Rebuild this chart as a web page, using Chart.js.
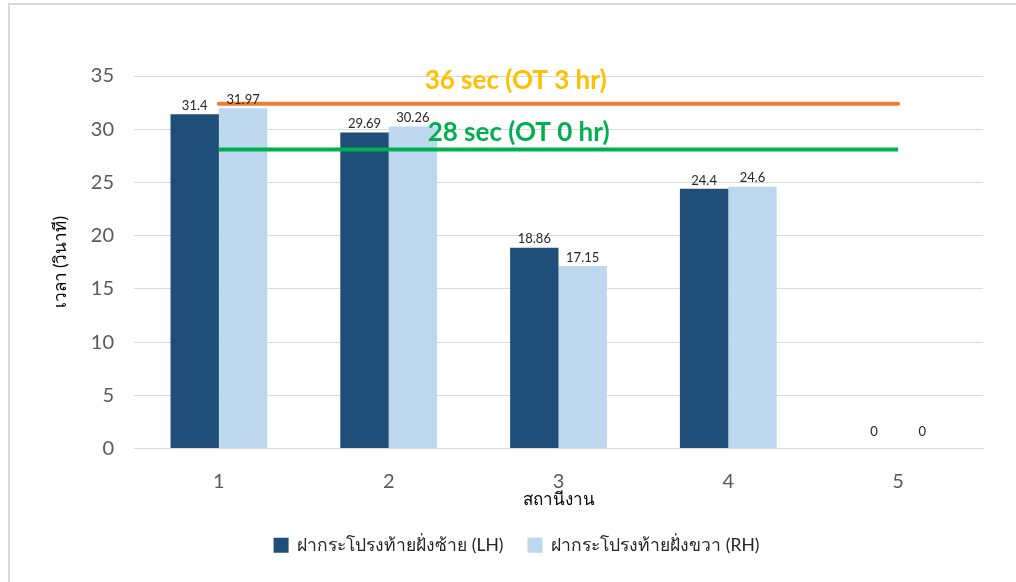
<!DOCTYPE html>
<html>
<head>
<meta charset="utf-8">
<script src="https://cdn.jsdelivr.net/npm/chart.js@4"></script>
<style>
  html, body { margin: 0; padding: 0; background: #fff; overflow: hidden; }
  #wrap { position: absolute; left: 0; top: 0; width: 1016px; height: 582px; }
  #frame { position: absolute; left: 8px; top: 3px; width: 1100px; height: 700px; border: 2px solid #d9d9d9; box-sizing: border-box; }
  canvas { position: absolute; left: 0; top: 0; }
</style>
</head>
<body>
<div id="wrap">
  <div id="frame"></div>
  <canvas id="c" width="1016" height="582"></canvas>
</div>
<script>
const categories = ['1', '2', '3', '4', '5'];
const seriesNames = ['ฝากระโปรงท้ายฝั่งซ้าย (LH)', 'ฝากระโปรงท้ายฝั่งขวา (RH)'];
const lhValues = [31.4, 29.69, 18.86, 24.4, 0];
const rhValues = [31.97, 30.26, 17.15, 24.6, 0];
const otLineLabels = ['36 sec (OT 3 hr)', '28 sec (OT 0 hr)'];
const otLine3hr = [32.4, 32.4, 32.4, 32.4, 32.4];
const otLine0hr = [28.1, 28.1, 28.1, 28.1, 28.1];
const yTicks = [0, 5, 10, 15, 20, 25, 30, 35];
const xTitle = 'สถานีงาน';
const yTitle = 'เวลา (วินาที)';

const FONT = "Lato, 'Open Sans', 'Noto Sans', sans-serif";

const labelPlugin = {
  id: 'labels',
  afterDatasetsDraw(chart) {
    const ctx = chart.ctx;
    ctx.save();
    ctx.font = "13px " + FONT;
    ctx.fillStyle = '#262626';
    ctx.textAlign = 'center';
    ctx.textBaseline = 'bottom';
    [0, 1].forEach(di => {
      const meta = chart.getDatasetMeta(di);
      meta.data.forEach((bar, i) => {
        const v = chart.data.datasets[di].data[i];
        const off = v === 0 ? 10 : 2;
        ctx.fillText(String(v), bar.x, bar.y - off);
      });
    });
    // OT annotation texts
    const ys = chart.scales.y;
    const xs = chart.scales.x;
    const cx = (xs.getPixelForValue(1) + xs.getPixelForValue(2)) / 2 + 42;
    ctx.font = "bold 26px " + FONT;
    ctx.textBaseline = 'middle';
    ctx.fillStyle = '#FFC000';
    ctx.fillText(otLineLabels[0], cx, ys.getPixelForValue(otLine3hr[0]) - 23);
    ctx.fillStyle = '#00B050';
    ctx.fillText(otLineLabels[1], cx + 3, ys.getPixelForValue(otLine0hr[0]) - 17);
    ctx.restore();
  }
};

new Chart(document.getElementById('c'), {
  type: 'bar',
  data: {
    labels: categories,
    datasets: [
      { label: seriesNames[0], data: lhValues, backgroundColor: '#1F4E79', borderColor: '#1F4E79', borderWidth: 0, order: 2 },
      { label: seriesNames[1], data: rhValues, backgroundColor: '#BDD7EE', borderColor: '#BDD7EE', borderWidth: 0, order: 2 },
      { type: 'line', label: otLineLabels[0], data: otLine3hr, borderColor: '#ED7D31', borderWidth: 4, pointRadius: 0, borderCapStyle: 'round', fill: false, order: 1 },
      { type: 'line', label: otLineLabels[1], data: otLine0hr, borderColor: '#00B050', borderWidth: 4, pointRadius: 0, fill: false, order: 1 }
    ]
  },
  options: {
    responsive: false,
    animation: false,
    devicePixelRatio: 1,
    layout: { padding: { left: 50, right: 33, top: 76, bottom: 18 } },
    datasets: { bar: { categoryPercentage: 0.57, barPercentage: 1.0 } },
    plugins: {
      legend: {
        position: 'bottom',
        labels: {
          filter: (item) => item.datasetIndex < 2,
          font: { family: FONT, size: 17.5 },
          color: '#262626',
          boxWidth: 15,
          boxHeight: 15,
          padding: 24
        }
      },
      tooltip: { enabled: false }
    },
    scales: {
      x: {
        grid: { display: false, drawTicks: false },
        border: { display: true, color: '#d9d9d9', width: 1 },
        ticks: { font: { family: FONT, size: 20 }, color: '#595959', padding: 21 },
        title: { display: true, text: xTitle, font: { family: FONT, size: 17 }, color: '#000', padding: { top: 4, bottom: 3 } },
        afterFit(s) { s.height = 64; }
      },
      y: {
        min: 0, max: 35,
        afterBuildTicks(s) { s.ticks = yTicks.map(v => ({ value: v })); },
        grid: { color: '#d9d9d9', drawTicks: false, lineWidth: 1 },
        border: { display: false },
        ticks: { font: { family: FONT, size: 20 }, color: '#595959', padding: 20 },
        title: { display: true, text: yTitle, font: { family: FONT, size: 17 }, color: '#000', padding: { top: 0, bottom: 0 } },
        afterFit(s) { s.width = 84; }
      }
    }
  },
  plugins: [labelPlugin]
});
</script>
</body>
</html>
